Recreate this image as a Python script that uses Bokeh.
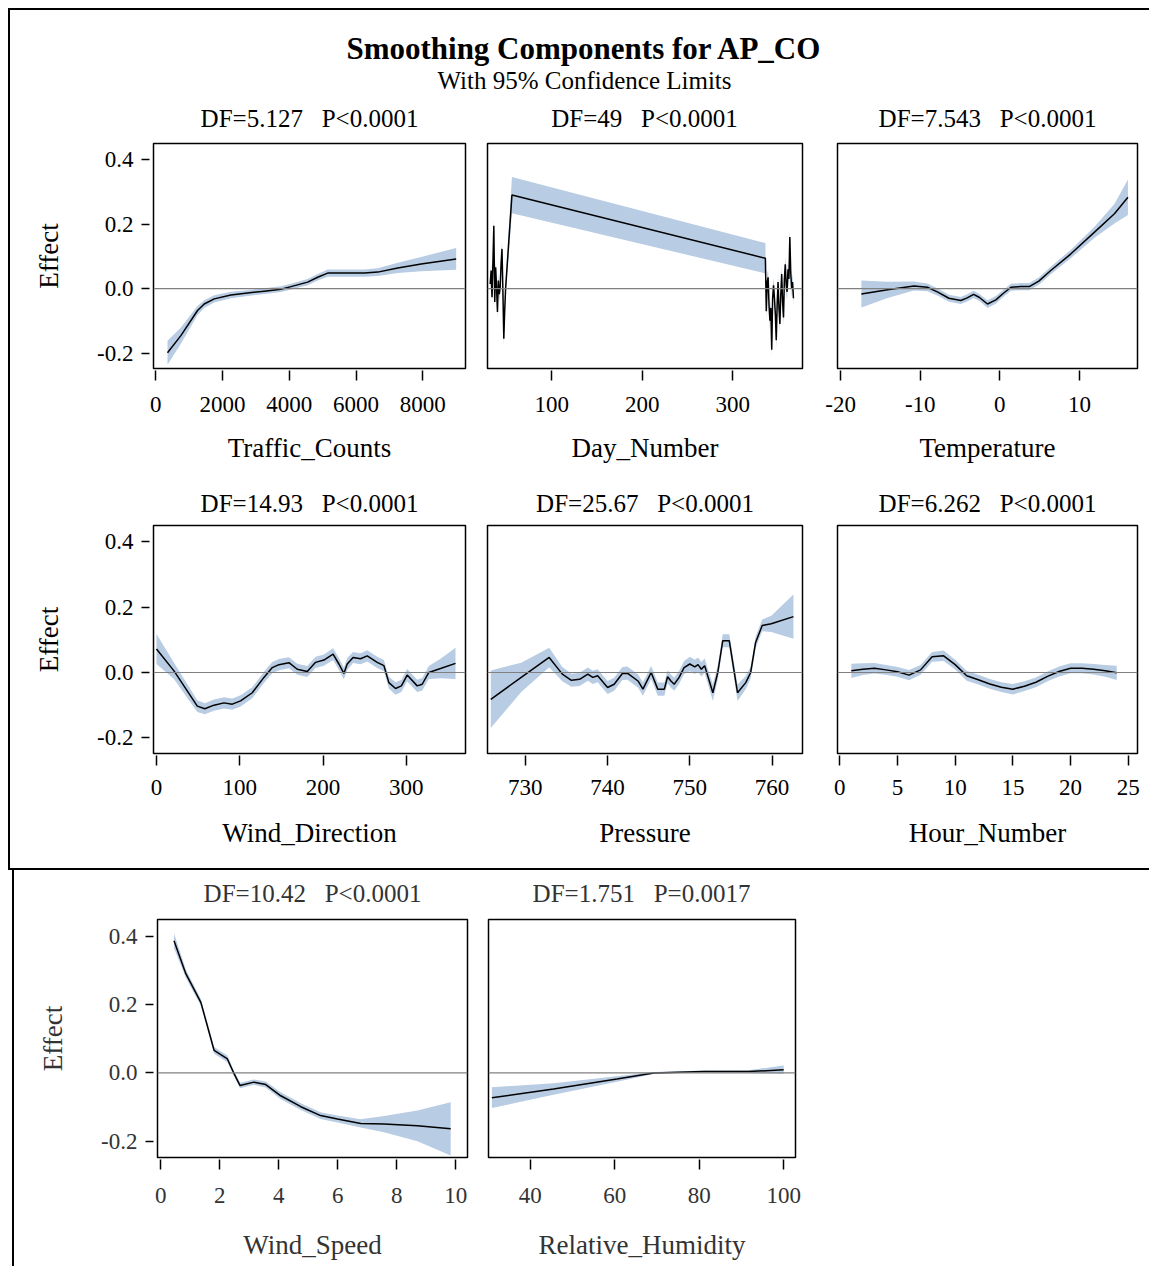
from bokeh.plotting import figure
from bokeh.layouts import row, column
from bokeh.models import Spacer, FixedTicker, Span, Label
from bokeh.embed import file_html
from bokeh.resources import INLINE

FONT = "Liberation Serif"
BAND = "#b8cce4"

# ---------------- data ----------------
y_ticks = [-0.2, 0.0, 0.2, 0.4]
y_tick_labels = ["-0.2", "0.0", "0.2", "0.4"]

# Traffic_Counts
tc_x = [350, 750, 1250, 1450, 1750, 2250, 2750, 3250, 3750, 4050, 4550, 4850, 5150, 5650, 6250, 6650, 7250, 7950, 9000]
tc_y = [-0.199, -0.146, -0.068, -0.048, -0.032, -0.020, -0.014, -0.008, -0.002, 0.006, 0.020, 0.035, 0.048, 0.048, 0.048, 0.051, 0.064, 0.076, 0.092]
tc_lo = [-0.236, -0.171, -0.082, -0.060, -0.043, -0.030, -0.023, -0.017, -0.011, -0.003, 0.010, 0.025, 0.037, 0.037, 0.037, 0.039, 0.048, 0.054, 0.058]
tc_hi = [-0.162, -0.121, -0.054, -0.036, -0.021, -0.010, -0.005, 0.001, 0.007, 0.015, 0.030, 0.045, 0.059, 0.059, 0.059, 0.063, 0.080, 0.098, 0.126]
tc_ticks = [0, 2000, 4000, 6000, 8000]
tc_tick_labels = ["0", "2000", "4000", "6000", "8000"]

# Day_Number
dn_x = [32, 33, 34, 35, 36, 37, 38, 39, 40, 41, 42, 43, 44, 45, 46, 47, 48, 49, 56,
        336, 337, 338, 339, 340, 341, 342, 343, 344, 345, 346, 347, 348, 349, 350, 351,
        352, 353, 354, 355, 356, 357, 358, 359, 360, 361, 362, 363, 364, 365, 366, 367]
dn_y = [0.014, 0.056, -0.027, 0.082, 0.195, -0.042, 0.066, 0.004, -0.073, 0.025, -0.017, 0.004, 0.076, 0.123, -0.006, -0.156, -0.068, 0.000, 0.290,
        0.094, -0.07, 0.02, 0.035, -0.05, -0.10, -0.06, -0.19, -0.03, 0.01, -0.03, -0.08, -0.16, -0.05, 0.02, -0.06,
        -0.11, -0.02, 0.045, -0.04, -0.09, 0.03, 0.075, 0.01, -0.01, 0.06, 0.03, 0.16, 0.05, 0.0, 0.02, -0.03]
dn_lo = [-0.008, 0.034, -0.049, 0.060, 0.173, -0.064, 0.044, -0.018, -0.095, 0.003, -0.039, -0.018, 0.054, 0.101, -0.028, -0.178, -0.090, -0.022, 0.234,
         0.047, -0.095, -0.005, 0.010, -0.075, -0.125, -0.085, -0.215, -0.055, -0.015, -0.055, -0.105, -0.185, -0.075, -0.005, -0.085,
         -0.135, -0.045, 0.020, -0.065, -0.115, 0.005, 0.050, -0.015, -0.035, 0.035, 0.005, 0.135, 0.025, -0.025, -0.005, -0.055]
dn_hi = [0.036, 0.078, -0.005, 0.104, 0.217, -0.020, 0.088, 0.026, -0.051, 0.047, 0.005, 0.026, 0.098, 0.145, 0.016, -0.134, -0.046, 0.022, 0.346,
         0.141, -0.045, 0.045, 0.060, -0.025, -0.075, -0.035, -0.165, -0.005, 0.035, -0.005, -0.055, -0.135, -0.025, 0.045, -0.035,
         -0.085, 0.005, 0.070, -0.015, -0.065, 0.055, 0.100, 0.035, 0.015, 0.085, 0.055, 0.185, 0.075, 0.025, 0.045, -0.005]
dn_ticks = [100, 200, 300]
dn_tick_labels = ["100", "200", "300"]

# Temperature
tp_x = [-17.4, -14.1, -10.8, -9.1, -7.8, -6.4, -4.9, -4.1, -3.3, -2.6, -1.55, -0.5, 0.34, 1.4, 2.6, 3.7, 4.9, 6.4, 8.9, 11.9, 14.4, 16.1]
tp_y = [-0.017, -0.004, 0.008, 0.004, -0.011, -0.030, -0.037, -0.029, -0.018, -0.027, -0.048, -0.035, -0.017, 0.004, 0.006, 0.006, 0.023, 0.056, 0.107, 0.175, 0.232, 0.283]
tp_lo = [-0.059, -0.029, -0.006, -0.008, -0.022, -0.041, -0.048, -0.040, -0.029, -0.038, -0.060, -0.047, -0.028, -0.007, -0.005, -0.005, 0.012, 0.044, 0.094, 0.158, 0.202, 0.228]
tp_hi = [0.025, 0.021, 0.022, 0.016, 0.000, -0.019, -0.026, -0.018, -0.007, -0.016, -0.036, -0.023, -0.006, 0.015, 0.017, 0.017, 0.034, 0.068, 0.120, 0.192, 0.262, 0.338]
tp_ticks = [-20, -10, 0, 10]
tp_tick_labels = ["-20", "-10", "0", "10"]

# Wind_Direction
wd_x = [0, 21, 49, 58, 69, 81, 91, 101, 115, 129, 139, 147, 159, 169, 181, 191, 201, 212, 219, 225, 229, 236, 245, 253, 265, 273, 279, 287, 294, 301, 313, 319, 327, 341, 359]
wd_y = [0.072, 0.005, -0.103, -0.111, -0.100, -0.093, -0.097, -0.087, -0.062, -0.015, 0.015, 0.024, 0.030, 0.010, 0.003, 0.031, 0.038, 0.056, 0.026, -0.003, 0.026, 0.046, 0.042, 0.051, 0.031, 0.021, -0.031, -0.049, -0.041, -0.008, -0.041, -0.036, 0.000, 0.012, 0.028]
wd_lo = [0.026, -0.020, -0.121, -0.128, -0.117, -0.110, -0.114, -0.104, -0.079, -0.032, -0.002, 0.007, 0.013, -0.007, -0.014, 0.014, 0.021, 0.038, 0.008, -0.021, 0.008, 0.029, 0.025, 0.034, 0.014, 0.004, -0.049, -0.068, -0.060, -0.027, -0.060, -0.055, -0.020, -0.018, -0.020]
wd_hi = [0.118, 0.030, -0.085, -0.094, -0.083, -0.076, -0.080, -0.070, -0.045, 0.002, 0.032, 0.041, 0.047, 0.027, 0.020, 0.048, 0.055, 0.074, 0.044, 0.015, 0.044, 0.063, 0.059, 0.068, 0.048, 0.038, -0.013, -0.030, -0.022, 0.011, -0.022, -0.017, 0.020, 0.042, 0.076]
wd_ticks = [0, 100, 200, 300]
wd_tick_labels = ["0", "100", "200", "300"]

# Pressure
pr_x = [725.8, 729.5, 732.9, 734.5, 735.6, 736.6, 737.6, 738.2, 738.8, 740.0, 740.8, 741.8, 742.4, 743.7, 744.3, 745.3, 746.1, 746.9, 747.3, 747.7, 748.1, 748.7, 749.3, 750.0, 750.6, 751.0, 751.4, 751.8, 752.8, 753.4, 754.0, 754.8, 755.8, 756.8, 757.4, 758.0, 758.8, 759.9, 762.6]
pr_y = [-0.082, -0.015, 0.046, -0.005, -0.024, -0.021, -0.005, -0.015, -0.010, -0.046, -0.036, -0.003, -0.002, -0.026, -0.051, 0.000, -0.051, -0.051, -0.013, -0.026, -0.036, -0.015, 0.015, 0.026, 0.017, 0.024, 0.010, 0.021, -0.062, 0.000, 0.097, 0.097, -0.062, -0.031, 0.000, 0.092, 0.144, 0.149, 0.171]
pr_lo = [-0.170, -0.060, 0.016, -0.027, -0.044, -0.041, -0.025, -0.035, -0.030, -0.066, -0.056, -0.023, -0.022, -0.046, -0.071, -0.020, -0.071, -0.071, -0.033, -0.046, -0.056, -0.035, -0.005, 0.004, -0.005, 0.002, -0.012, -0.001, -0.087, -0.022, 0.077, 0.077, -0.087, -0.051, -0.018, 0.074, 0.126, 0.124, 0.103]
pr_hi = [0.006, 0.030, 0.076, 0.017, -0.004, -0.001, 0.015, 0.005, 0.010, -0.026, -0.016, 0.017, 0.018, -0.006, -0.031, 0.020, -0.031, -0.031, 0.007, -0.006, -0.016, 0.005, 0.035, 0.048, 0.039, 0.046, 0.032, 0.043, -0.037, 0.022, 0.117, 0.117, -0.037, -0.011, 0.018, 0.110, 0.162, 0.174, 0.239]
pr_ticks = [730, 740, 750, 760]
pr_tick_labels = ["730", "740", "750", "760"]

# Hour_Number
hr_x = [1, 2, 3, 4, 5, 6, 7, 8, 9, 10, 11, 12, 13, 14, 15, 16, 17, 18, 19, 20, 21, 22, 23, 24]
hr_y = [0.005, 0.010, 0.013, 0.008, 0.002, -0.008, 0.008, 0.048, 0.051, 0.024, -0.010, -0.022, -0.035, -0.045, -0.051, -0.042, -0.030, -0.012, 0.003, 0.013, 0.013, 0.010, 0.005, -0.001]
hr_lo = [-0.017, -0.008, -0.003, -0.007, -0.013, -0.024, -0.007, 0.033, 0.035, 0.009, -0.025, -0.037, -0.050, -0.060, -0.067, -0.057, -0.045, -0.027, -0.012, -0.002, -0.002, -0.006, -0.013, -0.023]
hr_hi = [0.027, 0.028, 0.029, 0.023, 0.017, 0.008, 0.023, 0.063, 0.067, 0.039, 0.005, -0.007, -0.020, -0.030, -0.035, -0.027, -0.015, 0.003, 0.018, 0.028, 0.028, 0.026, 0.023, 0.021]
hr_ticks = [0, 5, 10, 15, 20, 25]
hr_tick_labels = ["0", "5", "10", "15", "20", "25"]

# Wind_Speed
ws_x = [0.45, 0.85, 1.36, 1.81, 2.26, 2.49, 2.69, 3.16, 3.56, 4.07, 4.75, 5.42, 5.99, 6.78, 7.57, 8.70, 9.83]
ws_y = [0.388, 0.291, 0.207, 0.066, 0.041, -0.003, -0.037, -0.027, -0.034, -0.067, -0.099, -0.125, -0.135, -0.148, -0.150, -0.155, -0.164]
ws_lo = [0.366, 0.279, 0.197, 0.056, 0.031, -0.011, -0.045, -0.035, -0.043, -0.077, -0.109, -0.135, -0.145, -0.160, -0.174, -0.200, -0.242]
ws_hi = [0.410, 0.303, 0.217, 0.076, 0.051, 0.005, -0.029, -0.019, -0.025, -0.057, -0.089, -0.115, -0.125, -0.136, -0.126, -0.110, -0.086]
ws_ticks = [0, 2, 4, 6, 8, 10]
ws_tick_labels = ["0", "2", "4", "6", "8", "10"]

# Relative_Humidity
rh_x = [30.9, 45.5, 60.5, 69.2, 81.1, 91.7, 100.0]
rh_y = [-0.073, -0.047, -0.018, 0.000, 0.004, 0.004, 0.009]
rh_lo = [-0.103, -0.064, -0.026, -0.003, 0.001, 0.000, -0.003]
rh_hi = [-0.042, -0.030, -0.010, 0.003, 0.007, 0.008, 0.022]
rh_ticks = [40, 60, 80, 100]
rh_tick_labels = ["40", "60", "80", "100"]

GAP = " \u00a0 "
titles = ["DF=5.127" + GAP + "P<0.0001", "DF=49" + GAP + "P<0.0001", "DF=7.543" + GAP + "P<0.0001",
          "DF=14.93" + GAP + "P<0.0001", "DF=25.67" + GAP + "P<0.0001", "DF=6.262" + GAP + "P<0.0001",
          "DF=10.42" + GAP + "P<0.0001", "DF=1.751" + GAP + "P=0.0017"]
main_title = "Smoothing Components for AP_CO"
sub_title = "With 95% Confidence Limits"

Y_RANGE = (-0.248, 0.45)


def panel(x, y, lo, hi, xr, xticks, xlabels, xlabel, title, fw, fh, mb, show_y,
          color="black", title_standoff=20, tick_standoff=14, label_standoff=20):
    l, r, t, b = mb
    p = figure(frame_width=fw, frame_height=fh,
               min_border_left=l, min_border_right=r, min_border_top=t, min_border_bottom=b,
               x_range=xr, y_range=Y_RANGE, toolbar_location=None, output_backend="svg",
               y_axis_location="left" if show_y else None, title=title)
    p.grid.visible = False
    p.outline_line_color = "black"
    p.outline_line_width = 1.5
    p.background_fill_color = "white"
    p.border_fill_color = "white"
    if title is not None:
        p.title.align = "center"
        p.title.text_font = FONT
        p.title.text_font_size = "25px"
        p.title.text_font_style = "normal"
        p.title.text_color = color
        p.title.standoff = title_standoff

    p.varea(x=x, y1=lo, y2=hi, fill_color=BAND, fill_alpha=1.0)
    p.add_layout(Span(location=0, dimension="width", line_color="#808080", line_width=1.2))
    p.line(x, y, line_color="black", line_width=1.5)

    ax = p.xaxis[0]
    ax.ticker = FixedTicker(ticks=xticks)
    ax.major_label_overrides = {t_: s for t_, s in zip(xticks, xlabels)}
    ax.minor_tick_line_color = None
    ax.axis_line_color = None
    ax.major_tick_in = -2
    ax.major_tick_out = 12
    ax.major_tick_line_width = 1.5
    ax.major_tick_line_color = "black"
    ax.major_label_standoff = tick_standoff
    ax.major_label_text_font = FONT
    ax.major_label_text_font_size = "23px"
    ax.major_label_text_color = color
    ax.axis_label = xlabel
    ax.axis_label_text_font = FONT
    ax.axis_label_text_font_size = "27px"
    ax.axis_label_text_font_style = "normal"
    ax.axis_label_text_color = color
    ax.axis_label_standoff = label_standoff

    if show_y:
        ay = p.yaxis[0]
        ay.ticker = FixedTicker(ticks=y_ticks)
        ay.major_label_overrides = {t_: s for t_, s in zip(y_ticks, y_tick_labels)}
        ay.minor_tick_line_color = None
        ay.axis_line_color = None
        ay.major_tick_in = -4
        ay.major_tick_out = 12
        ay.major_tick_line_width = 1.5
        ay.major_tick_line_color = "black"
        ay.major_label_standoff = 8
        ay.major_label_text_font = FONT
        ay.major_label_text_font_size = "23px"
        ay.major_label_text_color = color
        ay.axis_label = "Effect"
        ay.axis_label_text_font = FONT
        ay.axis_label_text_font_size = "27px"
        ay.axis_label_text_font_style = "normal"
        ay.axis_label_text_color = color
        ay.axis_label_standoff = 30
    return p


def text_strip(w, h, items, color="black"):
    """A blank figure used only to hold text labels (screen units, y from bottom)."""
    f = figure(width=w, height=h, min_border_left=0, min_border_right=0,
               min_border_top=0, min_border_bottom=0, toolbar_location=None,
               output_backend="svg", x_axis_location=None, y_axis_location=None,
               outline_line_color=None, x_range=(0, 1), y_range=(0, 1))
    f.grid.visible = False
    for (sx, sy, txt, size, style) in items:
        f.add_layout(Label(x=sx, y=sy, x_units="screen", y_units="screen", text=txt,
                           text_align="center", text_baseline="middle", text_font=FONT,
                           text_font_size=size, text_font_style=style, text_color=color))
    return f


# ---------------- header (main titles + row-1 panel titles) ----------------
header = text_strip(1139, 123, [
    (574, 85, main_title, "31px", "bold"),
    (574, 53, sub_title, "25px", "normal"),
    (299, 15, titles[0], "25px", "normal"),
    (634, 15, titles[1], "25px", "normal"),
    (977, 15, titles[2], "25px", "normal"),
])

# ---------------- panels ----------------
p1 = panel(tc_x, tc_y, tc_lo, tc_hi, (-70, 9280), tc_ticks, tc_tick_labels, "Traffic_Counts", None, 312, 225, (143, 11, 10, 109), True,
           tick_standoff=16, label_standoff=18)
p2 = panel(dn_x, dn_y, dn_lo, dn_hi, (29, 377), dn_ticks, dn_tick_labels, "Day_Number", None, 315, 225, (11, 18, 10, 109), False,
           tick_standoff=16, label_standoff=18)
p3 = panel(tp_x, tp_y, tp_lo, tp_hi, (-20.4, 17.3), tp_ticks, tp_tick_labels, "Temperature", None, 300, 225, (17, 12, 10, 109), False,
           tick_standoff=16, label_standoff=18)

p4 = panel(wd_x, wd_y, wd_lo, wd_hi, (-3.6, 371), wd_ticks, wd_tick_labels, "Wind_Direction", titles[3], 312, 228, (143, 11, 48, 115), True, title_standoff=18)
p5 = panel(pr_x, pr_y, pr_lo, pr_hi, (725.4, 763.7), pr_ticks, pr_tick_labels, "Pressure", titles[4], 315, 228, (11, 18, 48, 115), False, title_standoff=18)
p6 = panel(hr_x, hr_y, hr_lo, hr_hi, (-0.2, 25.8), hr_ticks, hr_tick_labels, "Hour_Number", titles[5], 300, 228, (17, 12, 48, 115), False, title_standoff=18)

GREY = "#333333"
header2 = text_strip(796, 39, [
    (298, 16, titles[6], "25px", "normal"),
    (627, 16, titles[7], "25px", "normal"),
], color=GREY)
p7 = panel(ws_x, ws_y, ws_lo, ws_hi, (-0.11, 10.4), ws_ticks, ws_tick_labels, "Wind_Speed", None, 310, 238, (143, 10, 10, 109), True,
           color=GREY, tick_standoff=18, label_standoff=24)
p8 = panel(rh_x, rh_y, rh_lo, rh_hi, (30.1, 102.8), rh_ticks, rh_tick_labels, "Relative_Humidity", None, 307, 238, (11, 15, 10, 109), False,
           color=GREY, tick_standoff=18, label_standoff=24)


def line_box(w, h):
    return Spacer(width=w, height=h, styles={"background-color": "black"})


top_inner = column(header, row(p1, p2, p3), row(p4, p5, p6))
top_section = column(line_box(1141, 2), row(line_box(2, 858), top_inner), line_box(1141, 2))
root = column(Spacer(width=1149, height=8),
              row(Spacer(width=8, height=862), top_section),
              row(Spacer(width=12, height=396), line_box(2, 396), column(header2, row(p7, p8))))

open("out.html", "w").write(file_html(root, INLINE))
